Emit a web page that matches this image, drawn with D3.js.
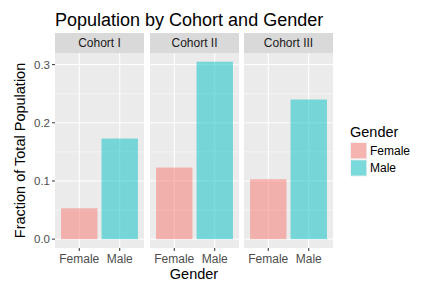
<!DOCTYPE html>
<html>
  <head>
    <meta charset="utf-8" />
    <script src="https://d3js.org/d3.v7.min.js"></script>
    <style>
      body { margin: 0; background: #fff; font-family: 'Liberation Sans', Arial, sans-serif; }
    </style>
  </head>
  <body>
    <div id="chart"></div>
    <script>
      // data
      const cohorts = ['Cohort I', 'Cohort II', 'Cohort III'];
      const genders = ['Female', 'Male'];
      const femaleValues = [0.053, 0.123, 0.103];
      const maleValues = [0.173, 0.305, 0.240];
      const yTicks = [0, 0.1, 0.2, 0.3];
      const yMinor = [0.05, 0.15, 0.25];

      const width = 422, height = 294;
      const panelTop = 53, panelBottom = 248, stripH = 20;
      const panelX = [55, 150, 244];
      const panelW = 89;

      const color = d3.scaleOrdinal().domain(genders).range(['#F8766D', '#00BFC4']);

      const svg = d3.select('#chart').append('svg')
        .attr('width', width).attr('height', height);

      const y = d3.scaleLinear()
        .domain([-0.01525, 0.32])
        .range([panelBottom, panelTop]);

      // title
      svg.append('text')
        .attr('x', 55).attr('y', 26)
        .attr('font-size', 18).attr('fill', '#000')
        .text('Population by Cohort and Gender');

      cohorts.forEach((c, i) => {
        const x0 = panelX[i];
        // ggplot discrete axis: 2 categories + 0.6 expansion each side
        const x = d3.scalePoint().domain(genders)
          .range([x0 + panelW * 0.6 / 2.2, x0 + panelW * 1.6 / 2.2]);
        const unit = panelW / 2.2;
        const g = svg.append('g');

        // strip
        g.append('rect').attr('x', x0).attr('y', panelTop - stripH)
          .attr('width', panelW).attr('height', stripH).attr('fill', '#D9D9D9');
        g.append('text').attr('x', x0 + panelW / 2).attr('y', panelTop - stripH / 2)
          .attr('dy', '0.35em').attr('text-anchor', 'middle')
          .attr('font-size', 12).attr('fill', '#1A1A1A').text(c);

        // panel bg
        g.append('rect').attr('x', x0).attr('y', panelTop)
          .attr('width', panelW).attr('height', panelBottom - panelTop).attr('fill', '#EBEBEB');

        // grid
        yMinor.forEach(t => g.append('line')
          .attr('x1', x0).attr('x2', x0 + panelW).attr('y1', y(t)).attr('y2', y(t))
          .attr('stroke', '#fff').attr('stroke-width', 0.5));
        yTicks.forEach(t => g.append('line')
          .attr('x1', x0).attr('x2', x0 + panelW).attr('y1', y(t)).attr('y2', y(t))
          .attr('stroke', '#fff').attr('stroke-width', 1));
        genders.forEach(gd => g.append('line')
          .attr('x1', x(gd)).attr('x2', x(gd)).attr('y1', panelTop).attr('y2', panelBottom)
          .attr('stroke', '#fff').attr('stroke-width', 1));

        // bars
        const vals = [femaleValues[i], maleValues[i]];
        g.selectAll('rect.bar').data(genders).join('rect')
          .attr('class', 'bar')
          .attr('x', d => x(d) - unit * 0.45)
          .attr('width', unit * 0.9)
          .attr('y', (d, j) => y(vals[j]))
          .attr('height', (d, j) => y(0) - y(vals[j]))
          .attr('fill', d => color(d)).attr('fill-opacity', 0.5);

        // x ticks
        genders.forEach(gd => {
          g.append('line').attr('x1', x(gd)).attr('x2', x(gd))
            .attr('y1', panelBottom).attr('y2', panelBottom + 3)
            .attr('stroke', '#333');
          g.append('text').attr('x', x(gd)).attr('y', panelBottom + 15)
            .attr('text-anchor', 'middle').attr('font-size', 12)
            .attr('fill', '#4D4D4D').text(gd);
        });
      });

      // y axis
      const yAxis = svg.append('g');
      yTicks.forEach(t => {
        yAxis.append('line').attr('x1', 52).attr('x2', 55).attr('y1', y(t)).attr('y2', y(t))
          .attr('stroke', '#333');
        yAxis.append('text').attr('x', 50).attr('y', y(t)).attr('dy', '0.35em')
          .attr('text-anchor', 'end').attr('font-size', 11.5).attr('fill', '#4D4D4D')
          .text(d3.format('.1f')(t));
      });

      // axis titles
      svg.append('text')
        .attr('transform', `translate(25,${(panelTop + panelBottom) / 2}) rotate(-90)`)
        .attr('text-anchor', 'middle').attr('font-size', 14.5).attr('fill', '#000')
        .text('Fraction of Total Population');
      svg.append('text')
        .attr('x', (panelX[0] + panelX[2] + panelW) / 2).attr('y', 279)
        .attr('text-anchor', 'middle').attr('font-size', 14.5).attr('fill', '#000')
        .text('Gender');

      // legend
      const leg = svg.append('g');
      leg.append('text').attr('x', 350).attr('y', 137).attr('font-size', 14.5)
        .attr('fill', '#000').text('Gender');
      genders.forEach((gd, j) => {
        const ly = 142 + j * 17.3;
        leg.append('rect').attr('x', 350).attr('y', ly).attr('width', 17.3).attr('height', 17.3)
          .attr('fill', '#F2F2F2');
        leg.append('rect').attr('x', 351).attr('y', ly + 1).attr('width', 15.3).attr('height', 15.3)
          .attr('fill', color(gd)).attr('fill-opacity', 0.5);
        leg.append('text').attr('x', 370).attr('y', ly + 8.6).attr('dy', '0.35em')
          .attr('font-size', 12).attr('fill', '#000').text(gd);
      });
    </script>
  </body>
</html>
